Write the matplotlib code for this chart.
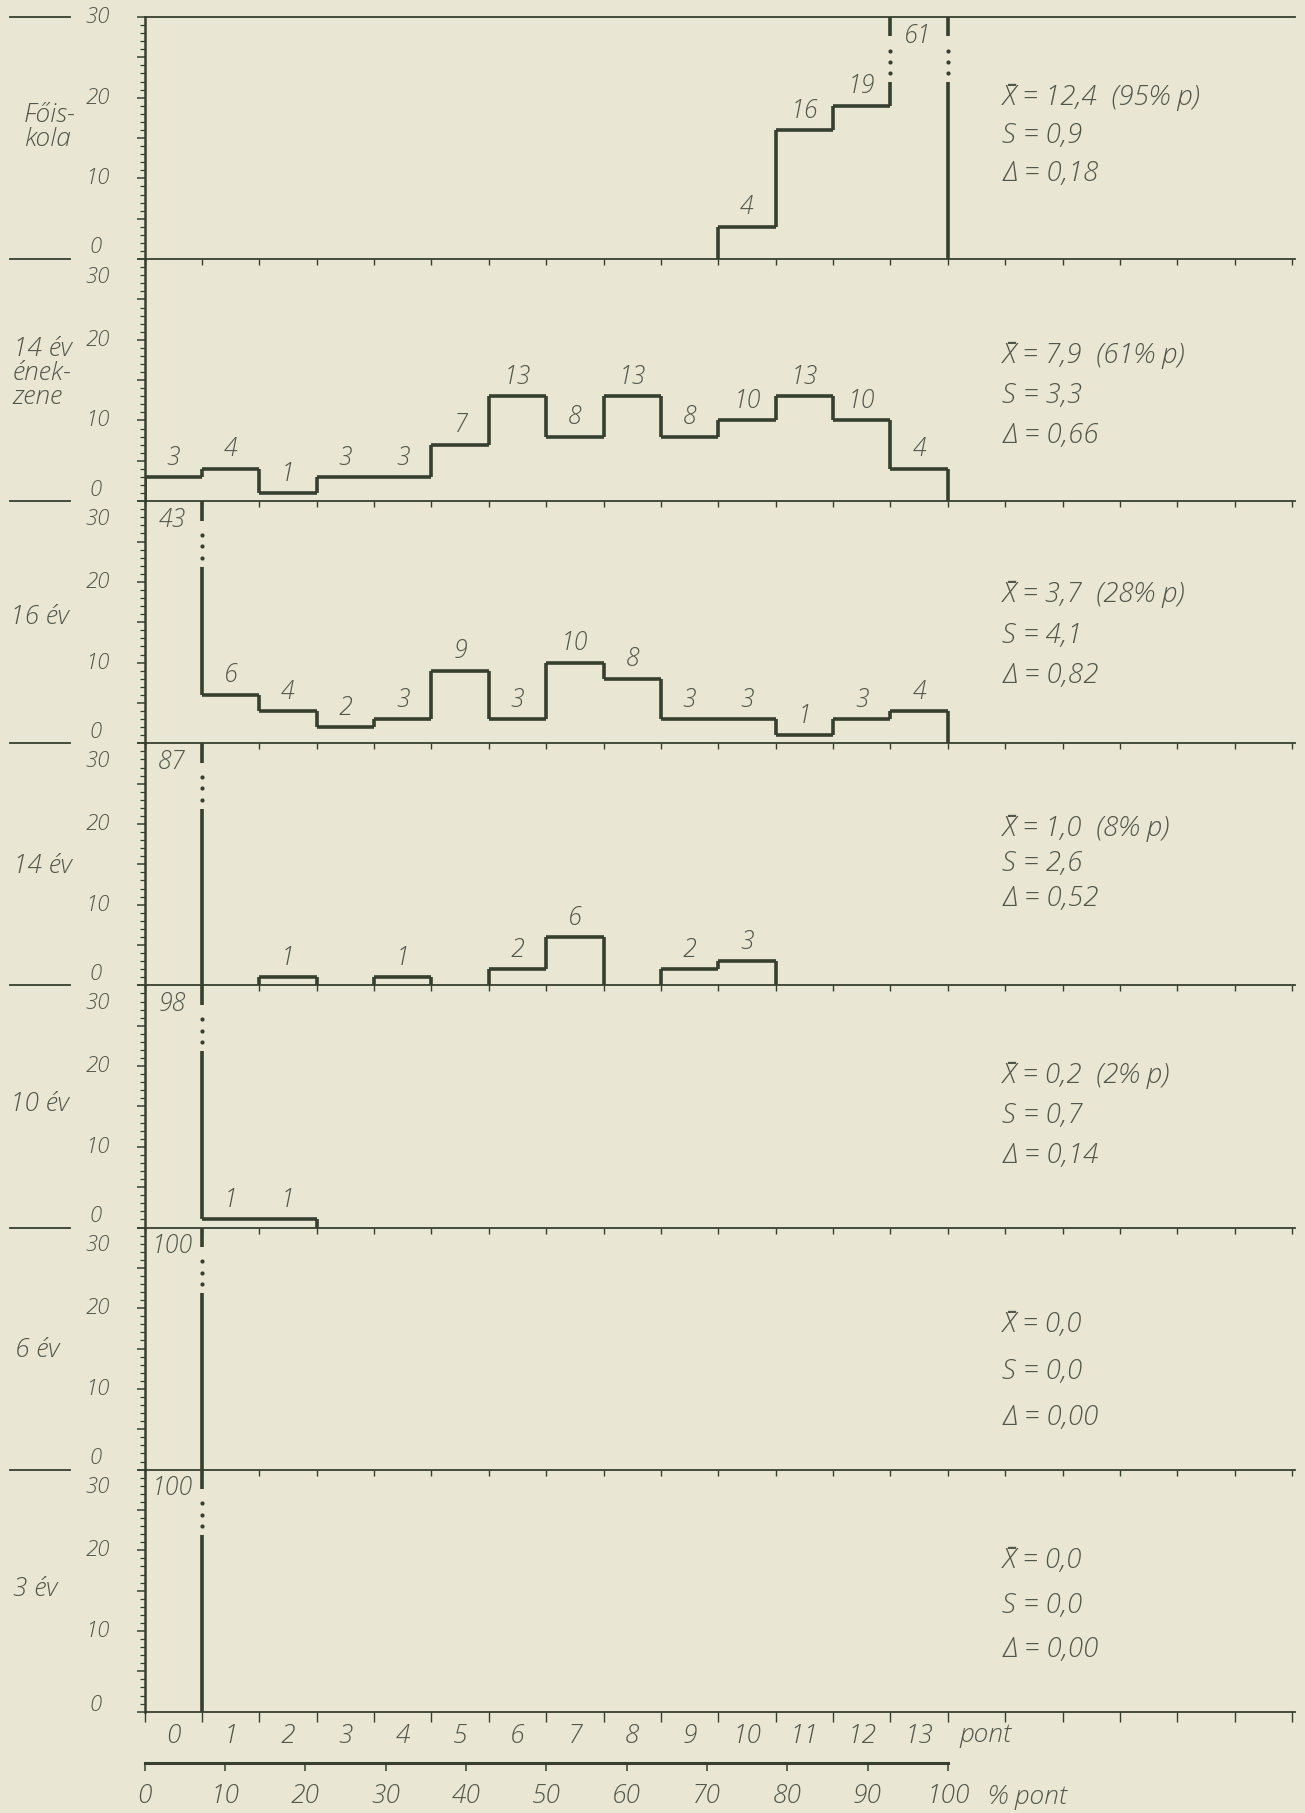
import numpy as np
import matplotlib
matplotlib.use("Agg")
import matplotlib.pyplot as plt

# ---- data: percentage of children per score bin (0..13 pont) ----
groups = ["Főis-\nkola", "14 év\nének-\nzene", "16 év", "14 év", "10 év", "6 év", "3 év"]
foiskola = [0, 0, 0, 0, 0, 0, 0, 0, 0, 0, 4, 16, 19, 61]
enekzene14 = [3, 4, 1, 3, 3, 7, 13, 8, 13, 8, 10, 13, 10, 4]
ev16 = [43, 6, 4, 2, 3, 9, 3, 10, 8, 3, 3, 1, 3, 4]
ev14 = [87, 0, 1, 0, 1, 0, 2, 6, 0, 2, 3, 0, 0, 0]
ev10 = [98, 1, 1, 0, 0, 0, 0, 0, 0, 0, 0, 0, 0, 0]
ev6 = [100, 0, 0, 0, 0, 0, 0, 0, 0, 0, 0, 0, 0, 0]
ev3 = [100, 0, 0, 0, 0, 0, 0, 0, 0, 0, 0, 0, 0, 0]
series = [foiskola, enekzene14, ev16, ev14, ev10, ev6, ev3]

means = ["12,4", "7,9", "3,7", "1,0", "0,2", "0,0", "0,0"]
mean_pct = ["95", "61", "28", "8", "2", None, None]
sds = ["0,9", "3,3", "4,1", "2,6", "0,7", "0,0", "0,0"]
deltas = ["0,18", "0,66", "0,82", "0,52", "0,14", "0,00", "0,00"]

point_labels = [str(p) for p in range(14)]
pct_ticks = list(range(0, 101, 10))

# ---- style ----
BG = "#e9e6d3"
LINE = "#373f2f"
TXT = "#525649"
YMAX = 30
XMAX = 20.05
FONT = ["Open Sans", "DejaVu Sans"]
plt.rcParams["font.family"] = FONT
plt.rcParams["font.style"] = "italic"
plt.rcParams["font.weight"] = "light"

W, H = 1305, 1813
fig = plt.figure(figsize=(W / 100, H / 100), dpi=100, facecolor=BG)

left_px, right_px = 144.5, 1295
top_px, panel_px = 17, 242.1
ax_left = left_px / W
ax_w = (right_px - left_px) / W
ax_h = panel_px / H

# text layout per panel (data units)
stats_y0 = [20.0, 18.1, 18.4, 19.4, 18.9, 18.0, 18.7]
stats_dy = [4.7, 5.0, 5.0, 4.3, 5.0, 5.8, 5.5]
side_y = [16.3, 15.8, 15.6, 14.7, 15.3, 14.7, 15.1]
side_x = [-2.1, -2.3, -2.35, -2.3, -2.35, -2.25, -2.3]

BRK_TOP, BRK_BOT = 27.6, 21.9
DOTS = [25.8, 24.4, 23.0]
VAL_FS, STAT_FS, YL_FS, SIDE_FS, BOT_FS = 18, 20, 16, 19, 19


def draw_vertical(ax, x, lo, hi, tall):
    if tall:
        ax.vlines(x, lo, BRK_BOT, color=LINE, lw=2.6)
        ax.vlines(x, BRK_TOP, hi, color=LINE, lw=2.6)
        ax.plot([x] * len(DOTS), DOTS, "o", ms=3, color=LINE, mec="none")
    else:
        ax.vlines(x, lo, hi, color=LINE, lw=2.6)


def draw_hist(ax, vals):
    vals = np.asarray(vals, float)
    edges = np.arange(len(vals) + 1)
    shown = np.minimum(vals, YMAX)
    mask = (vals > 0) & (vals < YMAX)
    ax.hlines(shown[mask], edges[:-1][mask], edges[1:][mask], color=LINE, lw=2.6)
    lv = np.r_[0, shown]
    rv = np.r_[shown, 0]
    lf = np.r_[0, vals]
    rf = np.r_[vals, 0]
    for x, a, b, fa, fb in zip(edges, lv, rv, lf, rf):
        tall = max(fa, fb) > YMAX
        if a == b or (x == 0 and tall):
            continue
        draw_vertical(ax, x, min(a, b), max(a, b), tall)
    for k, v in enumerate(vals):
        if v <= 0:
            continue
        if v >= YMAX:
            ax.text(k + 0.48, 27.6, f"{int(v)}", ha="center", va="center",
                    fontsize=VAL_FS, color=TXT)
        else:
            ax.text(k + 0.5, v + 0.8, f"{int(v)}", ha="center", va="bottom",
                    fontsize=VAL_FS, color=TXT)


axes = []
for i, vals in enumerate(series):
    bottom = 1 - (top_px + (i + 1) * panel_px) / H
    ax = fig.add_axes([ax_left, bottom, ax_w, ax_h])
    ax.set_facecolor("none")
    ax.set_xlim(0, XMAX)
    ax.set_ylim(0, YMAX)
    ax.spines["right"].set_visible(False)
    ax.spines["top"].set_visible(i == 0)
    for s in ["left", "bottom", "top"]:
        ax.spines[s].set_color(LINE)
    ax.spines["left"].set_linewidth(1.8)
    ax.spines["bottom"].set_linewidth(1.3)
    ax.spines["top"].set_linewidth(1.3)

    # y ticks: small marks every unit, labels drawn as text
    ax.set_yticks(np.arange(0, 31, 5))
    ax.set_yticks(np.arange(0, 31, 1), minor=True)
    ax.tick_params(axis="y", which="major", direction="out", length=6, width=1.1,
                   color=LINE, labelleft=False)
    ax.tick_params(axis="y", which="minor", direction="out", length=3.5, width=0.9,
                   color=LINE)
    ax.set_xticks(np.arange(0, 21, 1))
    last = i == len(series) - 1
    ax.tick_params(axis="x", which="major", direction="out",
                   length=7 if last else 4, width=1.0, color=LINE,
                   labelbottom=False)

    draw_hist(ax, vals)

    # y labels
    ax.text(-0.6, 20, "20", ha="right", va="center", fontsize=YL_FS, color=TXT, clip_on=False)
    ax.text(-0.6, 10, "10", ha="right", va="center", fontsize=YL_FS, color=TXT, clip_on=False)
    if i == 0:
        ax.text(-0.6, 30, "30", ha="right", va="center", fontsize=YL_FS, color=TXT, clip_on=False)
    else:
        ax.text(-0.6, 27.1, "30", ha="right", va="baseline", fontsize=YL_FS, color=TXT, clip_on=False)
    if last:
        ax.text(-0.75, 0.8, "0", ha="right", va="center", fontsize=YL_FS, color=TXT, clip_on=False)
    else:
        ax.text(-0.75, 0.7, "0", ha="right", va="baseline", fontsize=YL_FS, color=TXT, clip_on=False)
        ax.plot([-2.35, -1.3], [0, 0], color=LINE, lw=1.3, clip_on=False)
    if i == 0:
        ax.plot([-2.35, -1.3], [30, 30], color=LINE, lw=1.3, clip_on=False)

    # group label on the left
    ax.text(side_x[i], side_y[i], groups[i], ha="left", va="center", fontsize=SIDE_FS,
            color=TXT, linespacing=0.95, clip_on=False)

    # statistics
    first = f"X\u0304 = {means[i]}"
    if mean_pct[i] is not None:
        first += f"  ({mean_pct[i]}% p)"
    lines = [first, f"S = {sds[i]}", f"\u0394 = {deltas[i]}"]
    for j, t in enumerate(lines):
        ax.text(14.95, stats_y0[i] - j * stats_dy[i], t, ha="left", va="center",
                fontsize=STAT_FS, color=TXT)
    axes.append(ax)

# bottom point labels
ax = axes[-1]
ax.set_xticks(np.arange(14) + 0.5, minor=True)
ax.set_xticklabels(point_labels, minor=True)
ax.tick_params(axis="x", which="minor", length=0, pad=9, labelsize=BOT_FS,
               labelcolor=TXT)
ax.text(14.2, -0.1, "pont", transform=ax.get_xaxis_transform(), ha="left",
        va="center", fontsize=BOT_FS, color=TXT)

# percent scale
pax = fig.add_axes([ax_left, 1 - 1763 / H, ax_w, 0.0005])
pax.set_facecolor("none")
pax.set_xlim(0, XMAX * 100 / 14)
pax.set_ylim(0, 1)
for s in ["left", "right", "top"]:
    pax.spines[s].set_visible(False)
pax.spines["bottom"].set_bounds(0, 100)
pax.spines["bottom"].set_linewidth(2.2)
pax.spines["bottom"].set_color(LINE)
pax.set_yticks([])
pax.set_xticks(pct_ticks)
pax.set_xticklabels([str(t) for t in pct_ticks])
pax.tick_params(axis="x", direction="out", length=6, width=1.1, color=LINE,
                pad=9, labelsize=BOT_FS, labelcolor=TXT)
fig.text(988 / W, 1 - 1797 / H, "% pont", ha="left", va="center",
         fontsize=BOT_FS, color=TXT)

fig.savefig("out.png", dpi=100, facecolor=BG)
